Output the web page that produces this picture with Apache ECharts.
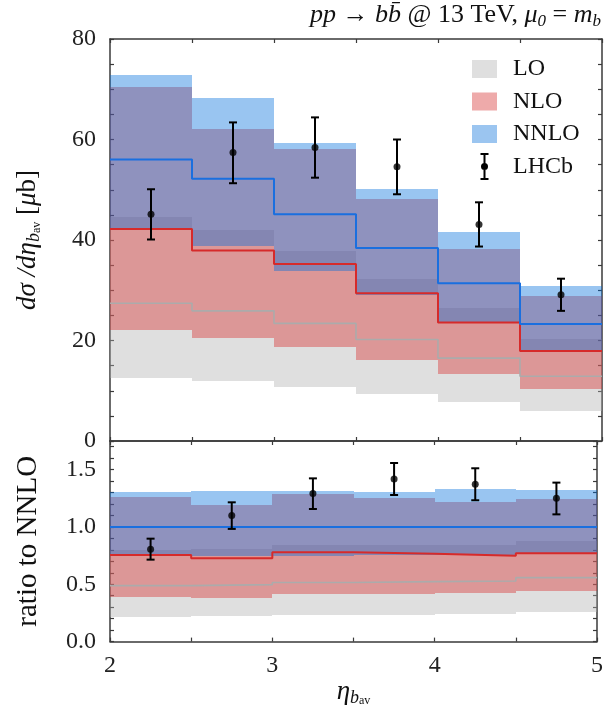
<!DOCTYPE html>
<html><head><meta charset="utf-8">
<script src="https://cdn.jsdelivr.net/npm/echarts@6/dist/echarts.min.js"></script>
<style>html,body{margin:0;padding:0;background:#fff}#c{width:606px;height:708px}</style>
</head><body><div id="c"></div>
<script>
// ---- data ----
const binEdges = [2, 2.5, 3, 3.5, 4, 4.5, 5];
const binCenters = [2.25, 2.75, 3.25, 3.75, 4.25, 4.75];
const xTicks = [2, 3, 4, 5];

// top panel: dsigma/deta [mu b]
const loCentral  = [27.4, 25.9, 23.4, 20.2, 16.5, 12.9];
const loLow      = [12.6, 11.9, 10.7, 9.3, 7.7, 6.0];
const loHigh     = [44.5, 42.0, 37.8, 32.3, 26.4, 20.3];
const nloCentral = [42.2, 37.9, 35.2, 29.4, 23.6, 17.9];
const nloLow     = [22.1, 20.4, 18.8, 16.2, 13.3, 10.3];
const nloHigh    = [70.4, 62.1, 58.2, 48.2, 38.2, 28.9];
const nnloCentral= [56.0, 52.2, 45.1, 38.4, 31.4, 23.3];
const nnloLow    = [42.0, 38.8, 33.9, 29.1, 23.6, 18.0];
const nnloHigh   = [72.9, 68.2, 59.3, 50.1, 41.6, 30.8];
const lhcbValue  = [45.1, 57.4, 58.4, 54.6, 43.1, 29.1];
const lhcbLow    = [40.1, 51.3, 52.4, 49.1, 38.7, 25.9];
const lhcbHigh   = [50.1, 63.4, 64.4, 60.0, 47.5, 32.3];

// bottom panel: ratio to NNLO
const rLoCentral  = [0.488, 0.497, 0.515, 0.523, 0.529, 0.558];
const rLoLow      = [0.218, 0.224, 0.230, 0.235, 0.244, 0.259];
const rLoHigh     = [0.800, 0.810, 0.840, 0.843, 0.843, 0.878];
const rNloCentral = [0.756, 0.727, 0.779, 0.767, 0.750, 0.770];
const rNloLow     = [0.392, 0.384, 0.413, 0.419, 0.422, 0.442];
const rNloHigh    = [1.262, 1.192, 1.288, 1.256, 1.218, 1.241];
const rNnloCentral= [1.0, 1.0, 1.0, 1.0, 1.0, 1.0];
const rNnloLow    = [0.750, 0.745, 0.750, 0.758, 0.752, 0.770];
const rNnloHigh   = [1.308, 1.311, 1.314, 1.308, 1.328, 1.320];
const rLhcbValue  = [0.805, 1.099, 1.291, 1.419, 1.372, 1.250];
const rLhcbLow    = [0.715, 0.983, 1.157, 1.279, 1.233, 1.110];
const rLhcbHigh   = [0.898, 1.215, 1.424, 1.558, 1.512, 1.387];

// ---- styling ----
const FONT = 'Liberation Serif';
const AX = '#3a3a3a';
const C_LO = 'rgba(176,176,176,0.4)', C_NLO = 'rgba(214,42,42,0.4)', C_NNLO = 'rgba(0,110,220,0.4)';
const L_LO = '#ababab', L_NLO = '#d62a2a', L_NNLO = '#1a6fdf';

function bandData(lo, hi) {
  return lo.map((v, i) => [binEdges[i], binEdges[i + 1], v, hi[i]]);
}
function stepData(vals) {
  return binEdges.map((e, i) => [e, vals[Math.min(i, vals.length - 1)]]);
}
function errData(lo, hi) {
  return binCenters.map((x, i) => [x, lo[i], hi[i]]);
}
function makeBand(color) {
  return function (params, api) {
    const p0 = api.coord([api.value(0), api.value(3)]);
    const p1 = api.coord([api.value(1), api.value(2)]);
    const x0 = Math.round(p0[0]), x1 = Math.round(p1[0]);
    const y0 = Math.round(p0[1]), y1 = Math.round(p1[1]);
    return { type: 'rect', shape: { x: x0, y: y0, width: x1 - x0, height: y1 - y0 },
      style: { fill: color } };
  };
}
function errRender(params, api) {
  const x = api.value(0);
  const pl = api.coord([x, api.value(1)]), ph = api.coord([x, api.value(2)]);
  const cap = 4, st = { stroke: '#000', lineWidth: 2 };
  return { type: 'group', children: [
    { type: 'line', shape: { x1: pl[0], y1: pl[1], x2: ph[0], y2: ph[1] }, style: st },
    { type: 'line', shape: { x1: pl[0] - cap, y1: pl[1], x2: pl[0] + cap, y2: pl[1] }, style: st },
    { type: 'line', shape: { x1: ph[0] - cap, y1: ph[1], x2: ph[0] + cap, y2: ph[1] }, style: st }
  ]};
}
function panelSeries(ax, d) {
  const base = { xAxisIndex: ax.x, yAxisIndex: ax.y };
  return [
    Object.assign({ type: 'custom', name: 'LO', renderItem: makeBand(C_LO), data: bandData(d.loL, d.loH),
      encode: { x: [0, 1], y: [2, 3] }, itemStyle: { color: '#dfdfdf' }, z: 1, clip: true }, base),
    Object.assign({ type: 'custom', name: 'NLO', renderItem: makeBand(C_NLO), data: bandData(d.nloL, d.nloH),
      encode: { x: [0, 1], y: [2, 3] }, itemStyle: { color: '#eeaaaa' }, z: 2, clip: true }, base),
    Object.assign({ type: 'custom', name: 'NNLO', renderItem: makeBand(C_NNLO), data: bandData(d.nnloL, d.nnloH),
      encode: { x: [0, 1], y: [2, 3] }, itemStyle: { color: '#9bc5f0' }, z: 3, clip: true }, base),
    Object.assign({ type: 'line', name: 'LO central', step: 'end', data: stepData(d.loC), showSymbol: false, symbol: 'none',
      lineStyle: { color: L_LO, width: 1.6 }, z: 4 }, base),
    Object.assign({ type: 'line', name: 'NLO central', step: 'end', data: stepData(d.nloC), showSymbol: false, symbol: 'none',
      lineStyle: { color: L_NLO, width: 2 }, z: 5 }, base),
    Object.assign({ type: 'line', name: 'NNLO central', step: 'end', data: stepData(d.nnloC), showSymbol: false, symbol: 'none',
      lineStyle: { color: L_NNLO, width: 2 }, z: 6 }, base),
    Object.assign({ type: 'custom', name: 'LHCb', renderItem: errRender, data: errData(d.dL, d.dH),
      encode: { x: 0, y: [1, 2] }, itemStyle: { color: '#000' }, z: 7 }, base),
    Object.assign({ type: 'scatter', name: 'LHCb', data: binCenters.map((x, i) => [x, d.dV[i]]),
      symbol: 'circle', symbolSize: 7, itemStyle: { color: '#000' }, z: 8 }, base)
  ];
}

const tick = { show: true, inside: true, length: 4, lineStyle: { color: AX, width: 1.2 } };
const mtick = { show: true, length: 4, lineStyle: { color: AX, width: 1.2 } };
const aline = { show: true, onZero: false, lineStyle: { color: AX, width: 1.5 } };
const lbl = { fontFamily: FONT, fontSize: 24, color: '#222' };

function xAx(grid, pos, labels) {
  return { type: 'value', gridIndex: grid, position: pos, min: 2, max: 5, interval: 1,
    axisLine: aline, axisTick: tick, minorTick: Object.assign({ splitNumber: 2 }, mtick),
    splitLine: { show: false },
    axisLabel: labels ? Object.assign({ margin: 12 }, lbl) : { show: false } };
}

// legend icons drawn in a 25 x 27 box (degenerate lines fix the box size)
const BOX = 'M0,0H25M0,27H25';
const ICON_RECT = 'path://' + BOX + 'M0,4.5H25V22.5H0Z';
const ICON_ERR = 'path://' + BOX + 'M8.5,0H16.5V2H13.5V25H16.5V27H8.5V25H11.5V2H8.5Z' +
  'M12.5,10A3.5,3.5 0 1 1 12.5,17A3.5,3.5 0 1 1 12.5,10Z';

const option = {
  animation: false,
  backgroundColor: '#fff',
  textStyle: { fontFamily: FONT },
  title: {
    text: '{i|pp} → {i|b}{i|b\u0304} @ 13 TeV, {i|μ}{s|0} = {i|m}{s|b}',
    right: 5, top: 0, padding: 0,
    textStyle: { fontFamily: FONT, fontSize: 26, fontWeight: 'normal', color: '#111', lineHeight: 30,
      rich: {
        i: { fontFamily: FONT, fontStyle: 'italic', fontSize: 26, color: '#111', lineHeight: 30 },
        s: { fontFamily: FONT, fontStyle: 'italic', fontSize: 17, color: '#111', lineHeight: 14, verticalAlign: 'bottom' }
      } }
  },
  legend: {
    orient: 'vertical', left: 472, top: 55.5, padding: 0, itemWidth: 25, itemHeight: 27, itemGap: 5.5,
    selectedMode: false,
    textStyle: { fontFamily: FONT, fontSize: 24, color: '#111', padding: [0, 0, 0, 11] },
    data: [
      { name: 'LO', icon: ICON_RECT, itemStyle: { color: '#dfdfdf' } },
      { name: 'NLO', icon: ICON_RECT, itemStyle: { color: '#eeaaaa' } },
      { name: 'NNLO', icon: ICON_RECT, itemStyle: { color: '#9bc5f0' } },
      { name: 'LHCb', icon: ICON_ERR, itemStyle: { color: '#000' } }
    ]
  },
  grid: [
    { left: 110, top: 39, width: 492, height: 402 },
    { left: 110, top: 441, width: 492, height: 202 }
  ],
  xAxis: [
    xAx(0, 'bottom', false),
    xAx(0, 'top', false),
    Object.assign(xAx(1, 'bottom', true), {
      name: '{i|η}{s|b}{ss|av}', nameLocation: 'middle', nameGap: 34,
      nameTextStyle: { fontFamily: FONT, fontSize: 26, color: '#111',
        rich: { i: { fontFamily: FONT, fontStyle: 'italic', fontSize: 27, lineHeight: 30, color: '#111' },
                s: { fontFamily: FONT, fontStyle: 'italic', fontSize: 18, lineHeight: 20, verticalAlign: 'bottom', color: '#111' },
                ss: { fontFamily: FONT, fontSize: 12, lineHeight: 12, verticalAlign: 'bottom', color: '#111' } } }
    }),
    xAx(1, 'top', false)
  ],
  yAxis: [
    { type: 'value', gridIndex: 0, position: 'left', min: 0, max: 80, interval: 20,
      axisLine: aline, axisTick: tick, minorTick: Object.assign({ splitNumber: 4 }, mtick), splitLine: { show: false },
      axisLabel: Object.assign({ margin: 14 }, lbl),
      name: '{i|dσ /dη}{s|b}{ss|av} [{i|μ}b]', nameLocation: 'middle', nameRotate: 90, nameGap: 67,
      nameTextStyle: { fontFamily: FONT, fontSize: 27, color: '#111',
        rich: { i: { fontFamily: FONT, fontStyle: 'italic', fontSize: 27, lineHeight: 30, color: '#111' },
                s: { fontFamily: FONT, fontStyle: 'italic', fontSize: 18, lineHeight: 20, verticalAlign: 'bottom', color: '#111' },
                ss: { fontFamily: FONT, fontSize: 12, lineHeight: 12, verticalAlign: 'bottom', color: '#111' } } } },
    { type: 'value', gridIndex: 0, position: 'right', min: 0, max: 80, interval: 20,
      axisLine: aline, axisTick: tick, minorTick: Object.assign({ splitNumber: 4 }, mtick), splitLine: { show: false },
      axisLabel: { show: false } },
    { type: 'value', gridIndex: 1, position: 'left', min: 0, max: 1.75, interval: 0.5,
      axisLine: aline, axisTick: tick, minorTick: Object.assign({ splitNumber: 5 }, mtick), splitLine: { show: false },
      axisLabel: Object.assign({ margin: 14, showMaxLabel: false, formatter: v => v.toFixed(1) }, lbl),
      name: 'ratio to NNLO', nameLocation: 'middle', nameRotate: 90, nameGap: 67,
      nameTextStyle: { fontFamily: FONT, fontSize: 29, color: '#111' } },
    { type: 'value', gridIndex: 1, position: 'right', min: 0, max: 1.75, interval: 0.5,
      axisLine: aline, axisTick: tick, minorTick: Object.assign({ splitNumber: 5 }, mtick), splitLine: { show: false },
      axisLabel: { show: false } }
  ],
  series: [].concat(
    panelSeries({ x: 0, y: 0 }, { loC: loCentral, loL: loLow, loH: loHigh, nloC: nloCentral, nloL: nloLow, nloH: nloHigh,
      nnloC: nnloCentral, nnloL: nnloLow, nnloH: nnloHigh, dV: lhcbValue, dL: lhcbLow, dH: lhcbHigh }),
    panelSeries({ x: 2, y: 2 }, { loC: rLoCentral, loL: rLoLow, loH: rLoHigh, nloC: rNloCentral, nloL: rNloLow, nloH: rNloHigh,
      nnloC: rNnloCentral, nnloL: rNnloLow, nnloH: rNnloHigh, dV: rLhcbValue, dL: rLhcbLow, dH: rLhcbHigh })
  )
};

const chart = echarts.init(document.getElementById('c'), null, { renderer: 'canvas' });
chart.setOption(option);
</script></body></html>
